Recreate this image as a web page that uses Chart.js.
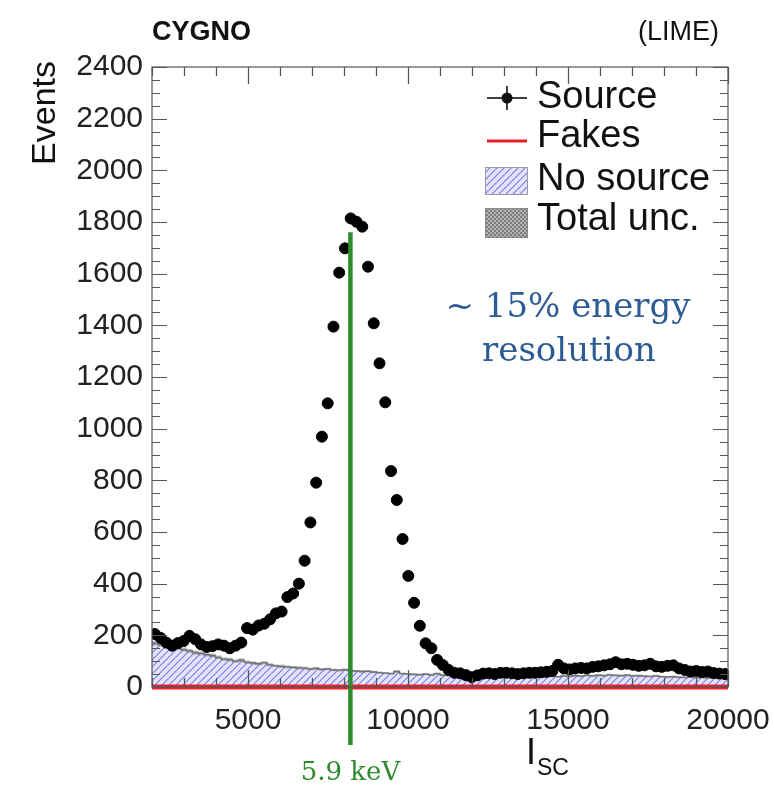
<!DOCTYPE html>
<html>
<head>
<meta charset="utf-8">
<script src="https://cdn.jsdelivr.net/npm/chart.js@4.4.1/dist/chart.umd.min.js"></script>
<style>
html, body { margin: 0; padding: 0; background: #fff; }
#wrap { width: 774px; height: 792px; position: relative; }
</style>
</head>
<body>
<div id="wrap"><canvas id="c" width="774" height="792"></canvas></div>
<script>
// histogram binning of I_SC (100 bins from 2000 to 20000)
const binStart = 2000;
const binWidth = 180;

// data points "Source", one per bin
const sourceCounts = [
  205, 190, 172, 160, 170, 178, 198, 185, 165, 155,
  158, 165, 160, 150, 160, 172, 228, 222, 238, 245,
  262, 285, 292, 348, 362, 400, 489, 637, 791, 969,
  1098, 1395, 1604, 1698, 1814, 1801, 1782, 1627, 1408, 1253,
  1102, 836, 724, 573, 430, 326, 237, 169, 150, 105,
  85, 66, 55, 53, 46, 38, 45, 52, 53, 50,
  55, 55, 53, 50, 53, 55, 55, 57, 59, 62,
  86, 72, 68, 72, 74, 72, 78, 80, 84, 88,
  96, 88, 90, 86, 82, 84, 90, 80, 78, 82,
  84, 72, 66, 60, 62, 58, 60, 54, 52, 50
];

// "No source" histogram
const noSourceCounts = [
  178, 170, 165, 158, 152, 150, 145, 140, 133, 130,
  125, 122, 115, 108, 106, 100, 104, 96, 93, 90,
  94, 86, 82, 80, 78, 76, 74, 73, 70, 72,
  68, 70, 66, 65, 67, 63, 62, 60, 61, 58,
  56, 54, 52, 60, 52, 50, 49, 48, 50, 47,
  52, 46, 45, 44, 46, 42, 44, 40, 42, 41,
  40, 42, 39, 41, 38, 40, 39, 41, 38, 40,
  42, 40, 43, 41, 44, 42, 45, 43, 46, 44,
  47, 45, 44, 46, 43, 44, 42, 41, 43, 40,
  39, 40, 38, 37, 39, 36, 37, 35, 36, 35
];

// total uncertainty on the "No source" histogram
const totalUnc = [
  9, 9, 8, 9, 8, 8, 8, 7, 8, 7,
  7, 7, 7, 6, 7, 6, 7, 6, 6, 6,
  6, 6, 5, 6, 5, 5, 6, 5, 5, 5,
  5, 5, 5, 5, 5, 5, 4, 5, 4, 5,
  4, 4, 4, 5, 4, 4, 4, 4, 4, 4,
  4, 4, 4, 4, 4, 4, 4, 4, 4, 4,
  4, 4, 4, 4, 4, 4, 4, 4, 4, 4,
  4, 4, 4, 4, 4, 4, 4, 4, 4, 4,
  4, 4, 4, 4, 4, 4, 4, 4, 4, 4,
  4, 4, 4, 4, 4, 4, 4, 4, 4, 4
];

// "Fakes" lies on zero over the whole range
const fakesLine = [{x: 2000, y: 0}, {x: 20000, y: 0}];

const xTickLabels = [5000, 10000, 15000, 20000];
const xRange = [2000, 20000];
const yRange = [0, 2400];
const yStep = 200;

// 5.9 keV marker and the annotation
const peakMarker = {x: 8200, top: 1760, label: '5.9 keV'};
const noteLines = ['~ 15% energy', 'resolution'];

const sourcePts = sourceCounts.map((v, i) => ({x: binStart + binWidth * (i + 0.5), y: v}));
function histPts(arr){
    const pts = arr.map((v, i) => ({x: binStart + binWidth * i, y: v}));
    pts.push({x: binStart + binWidth * arr.length, y: arr[arr.length - 1]});
    return pts;
}
const uncHigh = histPts(noSourceCounts.map((v, i) => v + totalUnc[i]));
const uncLow = histPts(noSourceCounts.map((v, i) => v - totalUnc[i]));

function hatch(){
    const c = document.createElement('canvas');
    c.width = 7; c.height = 7;
    const g = c.getContext('2d');
    g.fillStyle = '#e4e4fb';
    g.fillRect(0, 0, 7, 7);
    g.strokeStyle = '#7b7bec';
    g.lineWidth = 1.1;
    g.beginPath();
    g.moveTo(-1, 8); g.lineTo(8, -1);
    g.moveTo(-1, 1); g.lineTo(1, -1);
    g.moveTo(6, 8); g.lineTo(8, 6);
    g.stroke();
    return g.createPattern(c, 'repeat');
}
function checker(){
    const c = document.createElement('canvas');
    c.width = 4; c.height = 4;
    const g = c.getContext('2d');
    g.fillStyle = '#b4b4b4';
    g.fillRect(0, 0, 4, 4);
    g.fillStyle = '#7c7c7c';
    g.fillRect(0, 0, 2, 2);
    g.fillRect(2, 2, 2, 2);
    return g.createPattern(c, 'repeat');
}
const hatchFill = hatch();
const uncFill = checker();

const sansFont = '"Liberation Sans", Arial, sans-serif';
const serifFont = '"DejaVu Serif", serif';

const rootDecor = {
    id: 'rootDecor',
    afterDatasetsDraw(chart){
        const {ctx, chartArea: a, scales: {x, y}} = chart;
        ctx.save();

        // green 5.9 keV line
        const gx = x.getPixelForValue(peakMarker.x);
        ctx.strokeStyle = '#2e8b2e';
        ctx.lineWidth = 4.5;
        ctx.beginPath();
        ctx.moveTo(gx, y.getPixelForValue(peakMarker.top));
        ctx.lineTo(gx, a.bottom + 58);
        ctx.stroke();

        // frame + inner ticks (ROOT style)
        ctx.strokeStyle = '#555';
        ctx.lineWidth = 1.2;
        ctx.strokeRect(a.left, a.top, a.right - a.left, a.bottom - a.top);
        ctx.beginPath();
        for(let v = yRange[0]; v <= yRange[1]; v += 50){
            const py = Math.round(y.getPixelForValue(v)) + 0.5;
            const len = v % yStep === 0 ? 15 : 8;
            ctx.moveTo(a.left, py); ctx.lineTo(a.left + len, py);
            ctx.moveTo(a.right, py); ctx.lineTo(a.right - len, py);
        }
        for(let v = xRange[0]; v <= xRange[1]; v += 1000){
            const px = Math.round(x.getPixelForValue(v)) + 0.5;
            const len = v % 5000 === 0 ? 17 : 9;
            ctx.moveTo(px, a.bottom); ctx.lineTo(px, a.bottom - len);
            ctx.moveTo(px, a.top); ctx.lineTo(px, a.top + len);
        }
        ctx.stroke();

        // header
        ctx.fillStyle = '#111';
        ctx.textBaseline = 'middle';
        ctx.font = 'bold 27px ' + sansFont;
        ctx.textAlign = 'left';
        ctx.fillText('CYGNO', a.left, 33);
        ctx.font = '27px ' + sansFont;
        ctx.textAlign = 'right';
        ctx.fillText('(LIME)', a.right - 9, 33);

        // axis titles
        ctx.save();
        ctx.translate(46, a.top - 6);
        ctx.rotate(-Math.PI / 2);
        ctx.font = '34px ' + sansFont;
        ctx.textAlign = 'right';
        ctx.fillText('Events', 0, 0);
        ctx.restore();
        ctx.textAlign = 'left';
        ctx.font = '36px ' + sansFont;
        ctx.fillText('I', 526, 754);
        ctx.font = '23px ' + sansFont;
        ctx.fillText('SC', 537, 769);

        // peak label
        ctx.fillStyle = '#2e8b2e';
        ctx.textAlign = 'center';
        ctx.font = '26px ' + serifFont;
        ctx.fillText(peakMarker.label, gx, 773);

        // resolution note
        ctx.fillStyle = '#2d5b94';
        ctx.font = '34px ' + serifFont;
        ctx.fillText(noteLines[0], 568, 308);
        ctx.fillText(noteLines[1], 569, 352);

        // legend
        const lx = 485, tx = 537;
        ctx.font = '38px ' + sansFont;
        ctx.textAlign = 'left';
        ctx.fillStyle = '#111';
        const ds = chart.data.datasets;
        // Source
        ctx.strokeStyle = '#000'; ctx.lineWidth = 1.5;
        ctx.beginPath();
        ctx.moveTo(lx + 2, 98); ctx.lineTo(lx + 42, 98);
        ctx.moveTo(lx + 22, 86); ctx.lineTo(lx + 22, 110);
        ctx.stroke();
        ctx.beginPath(); ctx.arc(lx + 22, 98, 5.5, 0, Math.PI * 2); ctx.fill();
        ctx.fillText(ds[0].label, tx, 98);
        // Fakes
        ctx.strokeStyle = ds[1].borderColor; ctx.lineWidth = 3;
        ctx.beginPath(); ctx.moveTo(lx + 2, 141); ctx.lineTo(lx + 42, 141); ctx.stroke();
        ctx.fillText(ds[1].label, tx, 137);
        // No source
        ctx.fillStyle = hatchFill;
        ctx.fillRect(lx, 167, 42, 27);
        ctx.strokeStyle = '#999'; ctx.lineWidth = 1;
        ctx.strokeRect(lx + 0.5, 167.5, 42, 27);
        ctx.fillStyle = '#111';
        ctx.fillText(ds[2].label, tx, 180);
        // Total unc.
        ctx.fillStyle = uncFill;
        ctx.fillRect(lx, 208, 42, 29);
        ctx.strokeStyle = '#888';
        ctx.strokeRect(lx + 0.5, 208.5, 42, 29);
        ctx.fillStyle = '#111';
        ctx.fillText(ds[3].label, tx, 220);

        ctx.restore();
    }
};

new Chart(document.getElementById('c'), {
    type: 'line',
    data: {
        datasets: [
            {label: 'Source', data: sourcePts, showLine: false, pointRadius: 5.5, pointHoverRadius: 5.5,
             pointBackgroundColor: '#000', pointBorderColor: '#000', borderColor: '#000', order: 0},
            {label: 'Fakes', data: fakesLine, borderColor: '#e8202a', borderWidth: 5, pointRadius: 0,
             clip: 4, order: 1},
            {label: 'No source', data: histPts(noSourceCounts), stepped: 'after', borderColor: '#6a6a6a',
             borderWidth: 1.3, pointRadius: 0, fill: 'origin', backgroundColor: hatchFill, order: 3},
            {label: 'Total unc.', data: uncHigh, stepped: 'after', borderWidth: 0, pointRadius: 0,
             fill: 4, backgroundColor: 'rgba(120,120,120,0.55)', borderColor: 'rgba(0,0,0,0)', order: 2},
            {label: 'unc low', data: uncLow, stepped: 'after', borderWidth: 0, pointRadius: 0,
             fill: false, borderColor: 'rgba(0,0,0,0)', order: 2}
        ]
    },
    options: {
        responsive: false,
        animation: false,
        devicePixelRatio: 1,
        layout: {padding: {top: 67, right: 46, left: 0, bottom: 0}},
        plugins: {legend: {display: false}, tooltip: {enabled: false}},
        scales: {
            x: {
                type: 'linear', min: xRange[0], max: xRange[1],
                afterFit: s => { s.height = 105; s.paddingLeft = 0; s.paddingRight = 0; },
                afterBuildTicks: s => { s.ticks = xTickLabels.map(v => ({value: v})); },
                grid: {display: false, drawTicks: false},
                border: {display: false},
                ticks: {autoSkip: false, maxRotation: 0, padding: 16, color: '#222',
                        font: {family: sansFont, size: 30}, callback: v => String(v)}
            },
            y: {
                min: yRange[0], max: yRange[1],
                afterFit: s => { s.width = 152; s.paddingTop = 0; s.paddingBottom = 0; },
                grid: {display: false, drawTicks: false},
                border: {display: false},
                ticks: {stepSize: yStep, padding: 9, color: '#222',
                        font: {family: sansFont, size: 30}, callback: v => String(v)}
            }
        }
    },
    plugins: [rootDecor]
});
</script>
</body>
</html>
